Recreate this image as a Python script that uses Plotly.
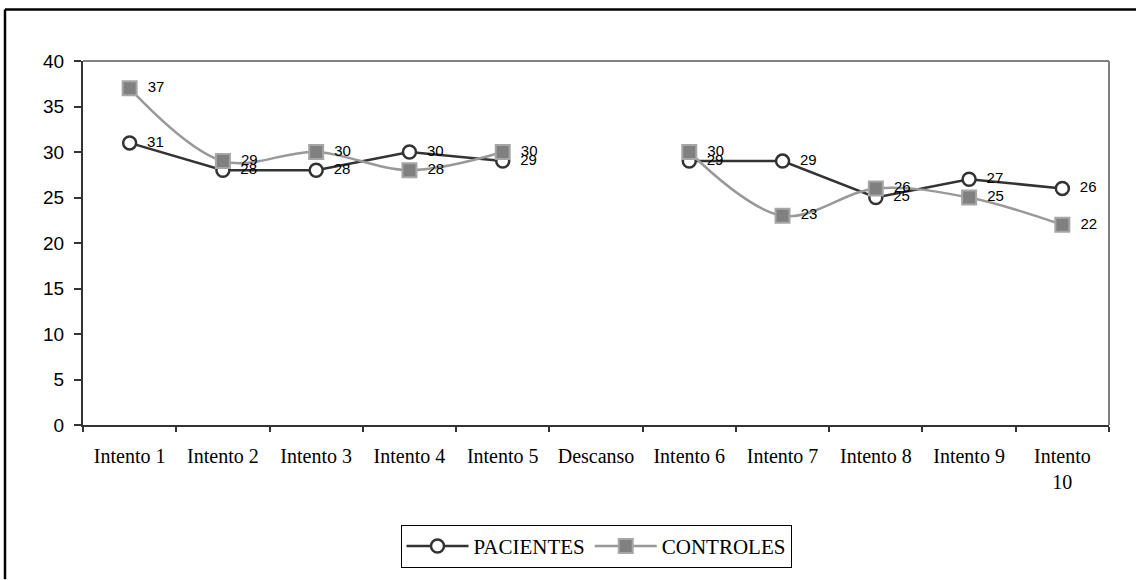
import plotly.graph_objects as go

# Categories along the x axis (the rest period has no data)
categorias = ["Intento 1", "Intento 2", "Intento 3", "Intento 4", "Intento 5",
              "Descanso", "Intento 6", "Intento 7", "Intento 8", "Intento 9",
              "Intento<br>10"]
pacientes = [31, 28, 28, 30, 29, None, 29, 29, 25, 27, 26]
controles = [37, 29, 30, 28, 30, None, 30, 23, 26, 25, 22]
y_ticks = [0, 5, 10, 15, 20, 25, 30, 35, 40]

W, H = 1136, 580
L, R, T, B = 83, 27, 61, 151
pw, ph = W - L - R, H - T - B


def px_x(x):
    return (x - L) / pw


def px_y(y):
    return (H - B - y) / ph


def etiquetas(vals):
    # two non-breaking spaces push the value label away from the marker
    return [("" if v is None else "\u00a0\u00a0" + str(v)) for v in vals]


fig = go.Figure()

fig.add_trace(go.Scatter(
    x=categorias, y=pacientes, name="PACIENTES",
    mode="lines+markers+text",
    text=etiquetas(pacientes), textposition="middle right",
    textfont=dict(family="Liberation Sans, Arial", size=15, color="#000"),
    line=dict(color="#333333", width=2.5),
    marker=dict(symbol="circle", size=13, color="white",
                line=dict(color="#333333", width=2.5)),
    connectgaps=False, cliponaxis=False,
))

fig.add_trace(go.Scatter(
    x=categorias, y=controles, name="CONTROLES",
    mode="lines+markers+text",
    text=etiquetas(controles), textposition="middle right",
    textfont=dict(family="Liberation Sans, Arial", size=15, color="#000"),
    line=dict(color="#999999", width=2.5, shape="spline", smoothing=1),
    marker=dict(symbol="square", size=14, color="#808080",
                line=dict(color="#A6A6A6", width=2)),
    connectgaps=False, cliponaxis=False,
))

shapes = [
    # grey top and right edges of the plot area
    dict(type="line", xref="paper", yref="paper", x0=0, x1=1, y0=1, y1=1,
         line=dict(color="#808080", width=2)),
    dict(type="line", xref="paper", yref="paper", x0=1, x1=1, y0=0, y1=1,
         line=dict(color="#808080", width=2)),
    # outer frame (left and top edges)
    dict(type="line", xref="paper", yref="paper",
         x0=px_x(5), x1=px_x(5), y0=px_y(9), y1=px_y(H + 5),
         line=dict(color="#000", width=2.5)),
    dict(type="line", xref="paper", yref="paper",
         x0=px_x(5), x1=px_x(W + 5), y0=px_y(9), y1=px_y(9),
         line=dict(color="#000", width=2.5)),
]

fig.update_layout(
    width=W, height=H,
    margin=dict(l=L, r=R, t=T, b=B, pad=0),
    paper_bgcolor="white", plot_bgcolor="white",
    showlegend=True,
    legend=dict(
        orientation="h", x=px_x(596), xanchor="center",
        y=px_y(530), yanchor="top",
        bordercolor="#000", borderwidth=1, bgcolor="white",
        font=dict(family="Liberation Serif, Times New Roman", size=21, color="#000"),
        itemwidth=62, tracegroupgap=0,
    ),
    shapes=shapes,
)

fig.update_xaxes(
    type="category", range=[-0.5, 10.5],
    showline=True, linecolor="#333333", linewidth=2,
    showgrid=False, zeroline=False,
    ticks="outside", tickson="boundaries", ticklen=5, tickwidth=1.5,
    tickcolor="#333333",
    tickfont=dict(family="Liberation Serif, Times New Roman", size=20, color="#000"),
    ticklabelstandoff=12,
)

fig.update_yaxes(
    range=[0, 40], tickvals=y_ticks,
    showline=True, linecolor="#333333", linewidth=2,
    showgrid=False, zeroline=False,
    ticks="outside", ticklen=7, tickwidth=1.5, tickcolor="#333333",
    tickfont=dict(family="Liberation Sans, Arial", size=19, color="#000"),
    ticklabelstandoff=6,
)

fig.write_html("out.html")
